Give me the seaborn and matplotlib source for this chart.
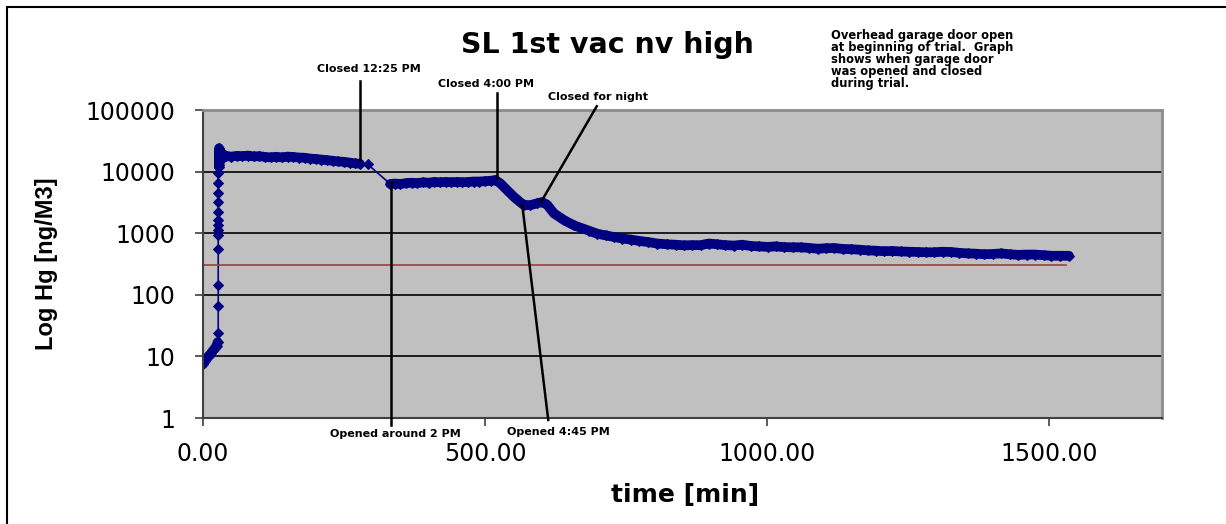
import numpy as np
import pandas as pd
import matplotlib
matplotlib.use("Agg")
import matplotlib.pyplot as plt
from matplotlib.patches import Rectangle
import seaborn as sns

# ---------------- data ----------------
time_min = [
    0, 3, 6, 9, 12, 15, 18, 21, 24, 26,
    27, 27, 27, 27, 27, 27, 27, 27, 27, 27, 27, 27, 27,
    28, 28.5, 29, 29.5, 30, 31, 33, 36, 40, 50, 60, 70, 80, 90, 100, 110, 120,
    130, 140, 150, 160, 170, 180, 190, 200, 210, 220, 230, 240, 250, 260, 270, 278,
    292,
    332, 340, 350, 360, 370, 380, 390, 400, 410, 420, 430, 440, 450, 460, 470,
    480, 490, 500, 510, 518,
    527, 539, 551, 563, 569, 580, 592, 601, 610, 622, 640, 657, 669, 684, 699,
    714, 728, 743, 758, 773, 788, 805, 823, 838, 852, 867, 882, 897, 912, 926,
    941, 956, 971, 986, 1001, 1015, 1030, 1045, 1060, 1075, 1090, 1104, 1118,
    1134, 1149, 1164, 1179, 1193, 1207, 1222, 1237, 1252, 1268, 1282, 1296,
    1311, 1326, 1341, 1356, 1370, 1385, 1400, 1415, 1430, 1445, 1460, 1474,
    1490, 1504, 1520, 1535,
]
hg_ngm3 = [
    7.5, 8.5, 9, 10, 10.5, 11.5, 12.5, 13.5, 15, 17,
    24, 67, 144, 553, 935, 1125, 1350, 1630, 2240, 3240, 4450, 6450, 9370,
    12000, 24000, 13000, 22000, 15000, 21000, 17000, 19000, 18000, 17500, 18000,
    17800, 18200, 17600, 17800, 17300, 17000,
    17400, 17000, 17500, 17300, 16900, 16800, 16300, 16000, 15700, 15300, 15000,
    14600, 14400, 14000, 13600, 13400,
    13100,
    6300, 6400, 6300, 6500, 6600, 6500, 6700, 6600, 6800, 6700, 6800, 6700,
    6800, 6700, 6800, 6900, 6900, 7000, 7100, 7300,
    6450, 5000, 3900, 3150, 2870, 2850, 3050, 3200, 2900, 2100, 1630, 1350,
    1230, 1100, 980,
    920, 870, 820, 790, 750, 720, 680, 660, 650, 635, 640, 640, 680, 660, 640,
    630, 650, 620, 610, 600, 610, 595, 590, 590, 575, 560, 570, 575,
    555, 550, 540, 525, 520, 510, 515, 505, 500, 495, 490, 490,
    500, 495, 480, 470, 465, 455, 460, 470, 455, 445, 450, 450,
    440, 430, 430, 430,
]
dense = (
    [1] * 10 + [0] * 13 + [1] * 33 + [0] * 1
    + [1] * (len(time_min) - 57)
)

threshold_t = [0, 1530]
threshold_v = [300, 300]

y_ticks = [1, 10, 100, 1000, 10000, 100000]
x_ticks = [0, 500, 1000, 1500]
x_tick_labels = ["0.00", "500.00", "1000.00", "1500.00"]

title = "SL 1st vac nv high"
note = ("Overhead garage door open\nat beginning of trial.  Graph\n"
        "shows when garage door\nwas opened and closed\nduring trial.")

# annotations: label, line start (time, value), line end (time, value), text pos (fig px)
annot_labels = ["Closed 12:25 PM", "Closed 4:00 PM", "Closed for night",
                "Opened around 2 PM", "Opened 4:45 PM"]
annot_line_from = [(279, 15400), (522, 7900), (600, 3300), (334, 6500), (566, 2850)]
annot_line_to = [(279, 3.0e5), (522, 1.9e5), (698, 1.15e5), (334, 0.77), (612, 0.93)]
annot_text_px = [(369, 69), (486, 84), (598, 97), (395, 434), (558, 432)]

BOLD = "DejaVu Sans"

# ---------------- figure ----------------
W, H = 1226, 524
fig = plt.figure(figsize=(W / 100, H / 100), dpi=100)
fig.patch.set_facecolor("white")

ax_left, ax_right, ax_top, ax_bottom = 203, 1162, 110, 418
ax = fig.add_axes([ax_left / W, 1 - ax_bottom / H,
                   (ax_right - ax_left) / W, (ax_bottom - ax_top) / H])
ax.set_facecolor("#C0C0C0")

df = pd.DataFrame({"time": time_min, "hg": hg_ngm3, "dense": dense})
df["seg"] = (df["dense"].diff().fillna(0) != 0).cumsum()

# thick band through dense measurement runs
sns.lineplot(data=df[df["dense"] == 1], x="time", y="hg", units="seg",
             estimator=None, sort=False, color="#000080", lw=7,
             solid_capstyle="round", ax=ax)
# thin connecting line + diamond markers for all points
sns.lineplot(data=df, x="time", y="hg", estimator=None, sort=False,
             color="#000080", lw=1.2, marker="D", markersize=5.5,
             markeredgecolor="#000080", ax=ax)

thr = pd.DataFrame({"time": threshold_t, "hg": threshold_v})
sns.lineplot(data=thr, x="time", y="hg", color="#9C4040", lw=1.2, ax=ax)

ax.set_yscale("log")
ax.set_ylim(1, 100000)
ax.set_xlim(0, 1700)
ax.set_yticks(y_ticks)
ax.set_yticklabels([str(v) for v in y_ticks])
ax.yaxis.set_minor_locator(matplotlib.ticker.NullLocator())
ax.set_xticks(x_ticks)
ax.set_xticklabels(x_tick_labels)

for v in y_ticks[1:-1]:
    ax.axhline(v, color="black", lw=1.2, zorder=0.5)

ax.tick_params(axis="both", direction="out", length=6, width=1.2,
               color="#404040", labelsize=17)
ax.tick_params(axis="y", pad=14)
ax.tick_params(axis="x", pad=11)
for lab in ax.get_xticklabels() + ax.get_yticklabels():
    lab.set_fontfamily("DejaVu Sans")

for s in ["left", "bottom"]:
    ax.spines[s].set_color("#404040")
    ax.spines[s].set_linewidth(1.5)
for s in ["top", "right"]:
    ax.spines[s].set_color("#8C8C8C")
    ax.spines[s].set_linewidth(2)

ax.set_xlabel("time [min]", fontsize=18, fontweight="bold", family=BOLD)
ax.set_ylabel("Log Hg [ng/M3]", fontsize=17, fontweight="bold", family="Liberation Sans")
ax.xaxis.set_label_coords((685 - ax_left) / (ax_right - ax_left),
                          (ax_bottom - 495) / (ax_bottom - ax_top), transform=ax.transAxes)
ax.yaxis.set_label_coords((47 - ax_left) / (ax_right - ax_left), 0.5)
ax.xaxis.label.set_va("center")
ax.yaxis.label.set_va("center")

# annotation pointer lines and labels
for lab, p0, p1, tp in zip(annot_labels, annot_line_from, annot_line_to, annot_text_px):
    ax.plot([p0[0], p1[0]], [p0[1], p1[1]], color="black", lw=1.8,
            clip_on=False, zorder=5)
    fig.text(tp[0] / W, 1 - tp[1] / H, lab, ha="center", va="center",
             fontsize=8, fontweight="bold", family=BOLD)

fig.text(607 / W, 1 - 45 / H, title, ha="center", va="center",
         fontsize=20.5, fontweight="bold", family=BOLD)
fig.text(831 / W, 1 - 29 / H, note, ha="left", va="top", fontsize=8.3,
         fontweight="bold", family=BOLD, linespacing=0.9)

# outer chart border (left and top visible)
fig.add_artist(Rectangle((7 / W, -0.1), 1.2, 1 - 7 / H + 0.1,
                         transform=fig.transFigure, fill=False,
                         edgecolor="black", lw=1.5))

fig.savefig("out.png", dpi=100)
